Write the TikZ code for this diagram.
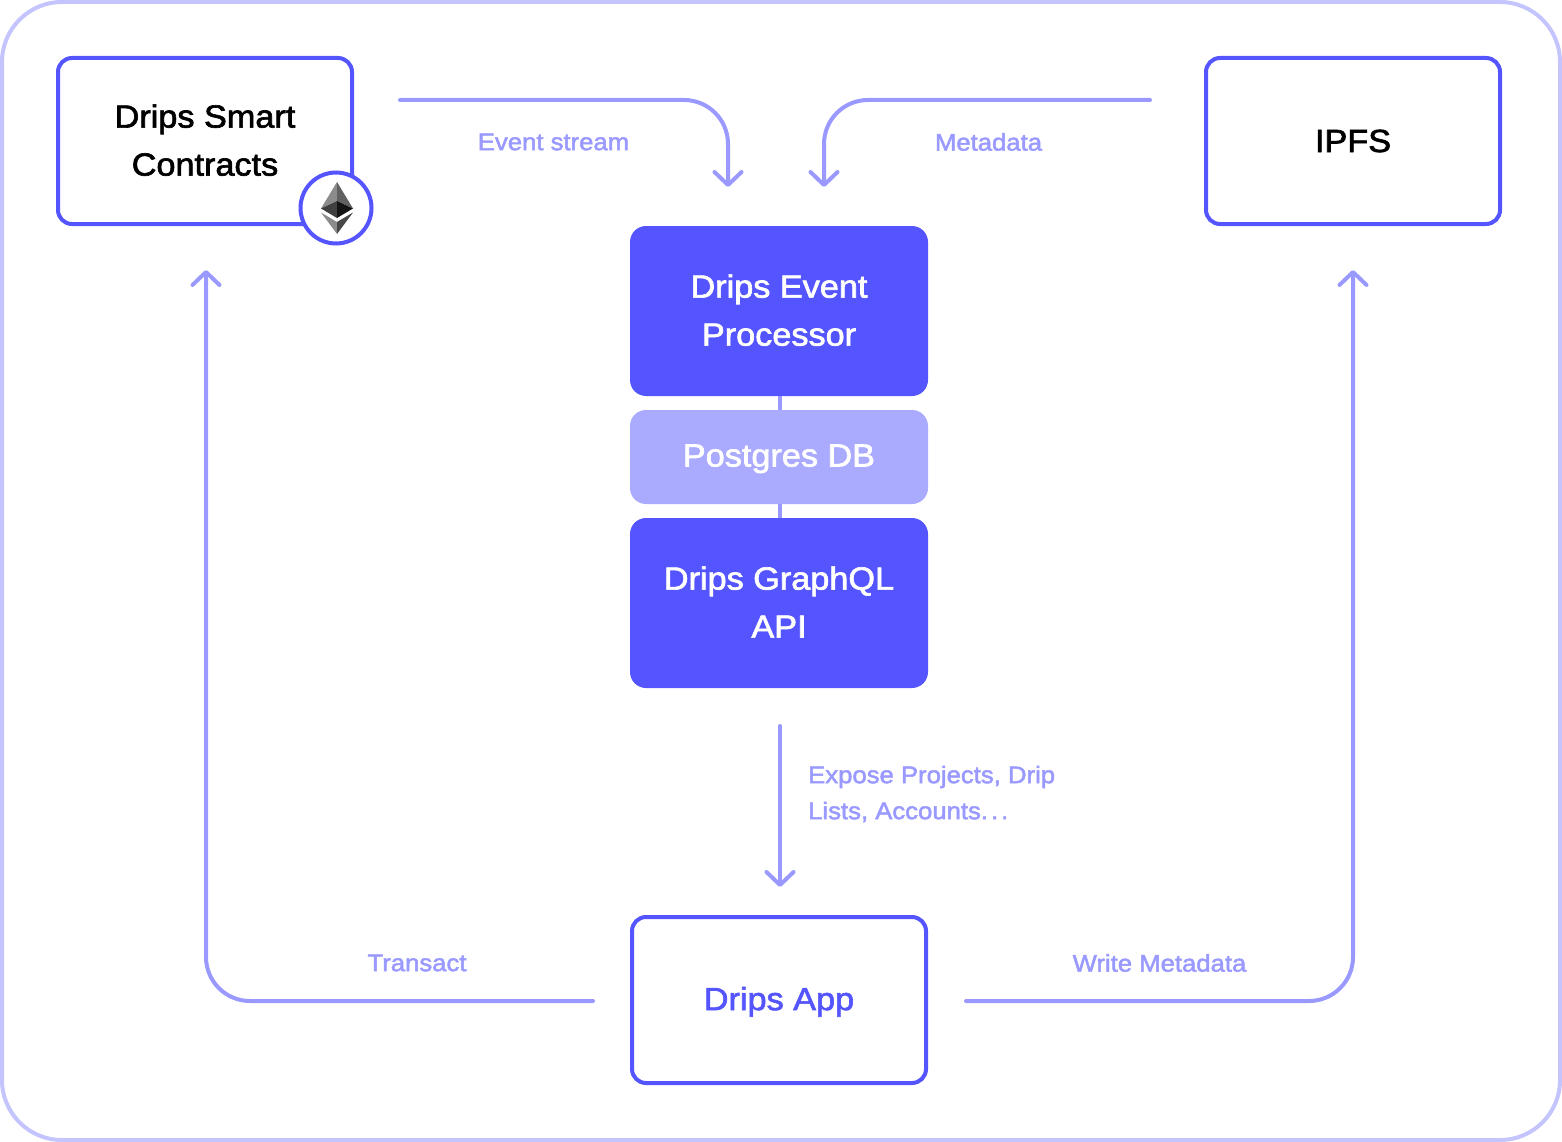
\documentclass[tikz,border=0pt]{standalone}
\usepackage{fontspec}
\setmainfont{Liberation Sans}
\newfontfamily\medfont[FakeBold=2,FakeStretch=1.07]{Liberation Sans}
\usetikzlibrary{arrows.meta,positioning}
\definecolor{dripsblue}{HTML}{5555FF}
\definecolor{dripsline}{HTML}{9999FF}
\definecolor{dripsmid}{HTML}{AAAAFF}
\definecolor{dripsframe}{HTML}{C4C4FF}
\begin{document}
\begin{tikzpicture}[
  x=1pt, y=-1pt,
  node distance=14pt,
  outline/.style={draw=dripsblue, line width=4pt, rounded corners=14pt, fill=white, minimum width=294pt, minimum height=166pt, align=center, outer sep=0pt, font=\medfont\fontsize{32}{48}\selectfont},
  solid box/.style={fill=dripsblue, text=white, rounded corners=16pt, minimum width=298pt, minimum height=170pt, align=center, outer sep=0pt, font=\medfont\fontsize{32}{48}\selectfont},
  flow/.style={draw=dripsline, line width=4pt, line cap=round, rounded corners=44pt, -{Straight Barb[length=13pt,width=27pt,line width=4pt,round]}},
  link/.style={draw=dripsline, line width=4pt},
  note/.style={text=dripsline, font=\medfont\fontsize{24}{36}\selectfont, inner sep=0pt, align=left}
]
\useasboundingbox (0,0) rectangle (1562,1142);
\draw[dripsframe, line width=4pt, rounded corners=60pt] (2,2) rectangle (1560,1140);
% outer boxes
\node[outline, text depth=2pt] (contracts) at (205,141) {Drips Smart\\Contracts};
\node[outline] (ipfs) at (1353,141) {IPFS};
\node[outline, text=dripsblue, text depth=3pt] (app) at (779,1000) {Drips App};
% middle stack
\node[solid box, text depth=2pt] (processor) at (779,311) {Drips Event\\Processor};
\node[solid box, below=of processor, fill=dripsmid, minimum height=94pt, text depth=3pt] (postgres) {Postgres DB};
\node[solid box, below=of postgres, text depth=2pt] (graphql) {Drips GraphQL\\API};
\draw[link] ([xshift=1pt]processor.south) -- ([xshift=1pt]postgres.north);
\draw[link] ([xshift=1pt]postgres.south) -- ([xshift=1pt]graphql.north);
% free ends of the arrows
\coordinate (streamstart) at (400,100);
\coordinate (streamend) at (728,187);
\coordinate (metastart) at (1150,100);
\coordinate (metaend) at (824,187);
\coordinate (exposestart) at (780,726);
\coordinate (exposeend) at (780,887);
\coordinate (transactstart) at (593,1001);
\coordinate (transactend) at (206,270);
\coordinate (writestart) at (966,1001);
\coordinate (writeend) at (1353,270);
\draw[flow] (streamstart) -| (streamend);
\draw[flow] (metastart) -| (metaend);
\draw[flow, rounded corners=0pt] (exposestart) -- (exposeend);
\draw[flow] (transactstart) -| (transactend);
\draw[flow] (writestart) -| (writeend);
% labels
\node[note] (streamlabel) at (553.5,142) {Event stream};
\node[note] (metalabel) at (988.5,142) {Metadata};
\node[note, anchor=west] (exposelabel) at (808,794) {Expose Projects, Drip\\Lists, Accounts.\kern3pt.\kern3pt.};
\node[note] (transactlabel) at (417,963) {Transact};
\node[note] (writelabel) at (1159.5,963) {Write Metadata};
% ethereum badge
\node[circle, draw=dripsblue, line width=4pt, fill=white, minimum size=71pt, inner sep=0pt] (badge) at (336,208) {};
\fill[black!45] (337,182) -- (321,208.5) -- (337,201) -- cycle;
\fill[black!62] (337,182) -- (353,208.5) -- (337,201) -- cycle;
\fill[black!75] (321,208.5) -- (337,201) -- (337,218) -- cycle;
\fill[black!92] (353,208.5) -- (337,201) -- (337,218) -- cycle;
\fill[black!45] (321,212.5) -- (337,222) -- (337,234) -- cycle;
\fill[black!72] (353,212.5) -- (337,222) -- (337,234) -- cycle;
\end{tikzpicture}
\end{document}
